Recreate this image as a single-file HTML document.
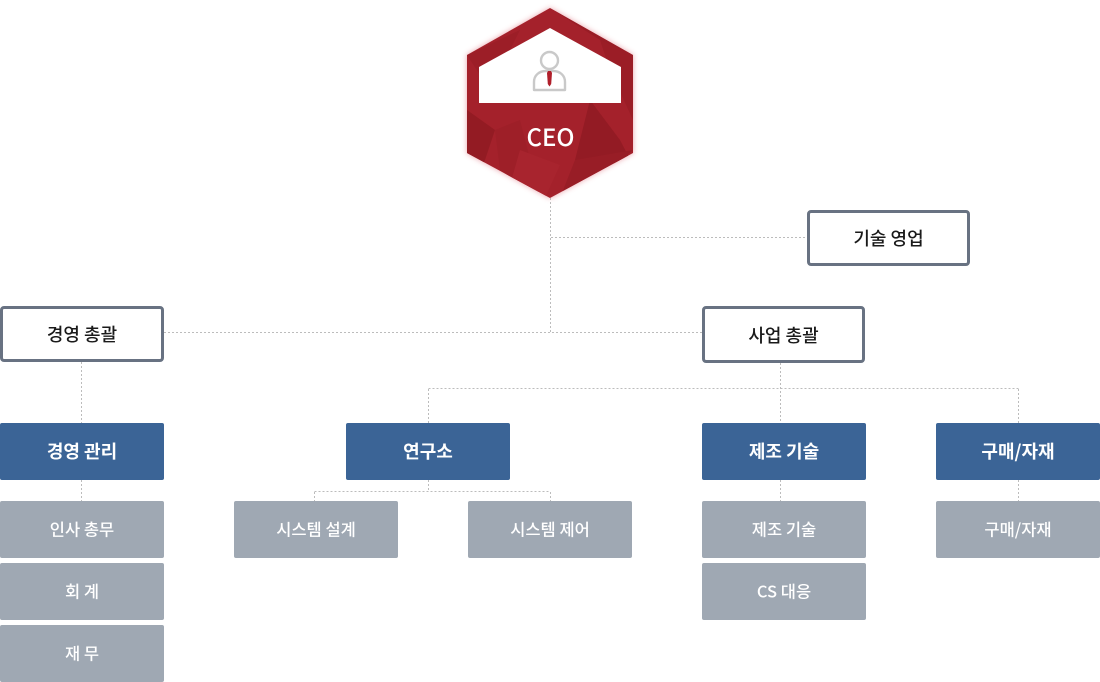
<!DOCTYPE html>
<html>
<head>
<meta charset="utf-8">
<style>
html,body{margin:0;padding:0;background:#fff;}
body{width:1100px;height:682px;overflow:hidden;}
svg{display:block;}
text{font-family:"Noto Sans CJK KR","Liberation Sans",sans-serif;}
</style>
</head>
<body>
<svg width="1100" height="682" viewBox="0 0 1100 682" xmlns="http://www.w3.org/2000/svg">
  <defs>
    <filter id="glow" x="-20%" y="-20%" width="140%" height="140%">
      <feGaussianBlur stdDeviation="3"/>
    </filter>
    <clipPath id="hexclip">
      <polygon points="550,8 633,55 633,153 550,198 467,153 467,55"/>
    </clipPath>
  </defs>

  <!-- connectors -->
  <g stroke="#bcbcbc" stroke-width="1" stroke-dasharray="2,2" fill="none">
    <path d="M550.5 198 V332"/>
    <path d="M551 237.5 H807"/>
    <path d="M164 332.5 H702"/>
    <path d="M81.5 362 V423"/>
    <path d="M81.5 480 V501"/>
    <path d="M780.5 363 V423"/>
    <path d="M428.5 388.5 H1018.5"/>
    <path d="M428.5 389 V423"/>
    <path d="M1018.5 389 V423"/>
    <path d="M428.5 480 V491.5"/>
    <path d="M314.5 491.5 H550.5"/>
    <path d="M314.5 492 V501"/>
    <path d="M550.5 492 V501"/>
    <path d="M780.5 480 V501"/>
    <path d="M1018.5 480 V501"/>
  </g>

  <!-- CEO hexagon -->
  <polygon points="550,8 633,55 633,153 550,198 467,153 467,55" fill="#e58a94" filter="url(#glow)" opacity="0.8"/>
  <g clip-path="url(#hexclip)">
    <rect x="460" y="0" width="180" height="205" fill="#a4212b"/>
    <polygon points="550,8 633,55 600,40" fill="#981d26"/>
    <polygon points="467,55 520,30 490,90" fill="#9c1e27"/>
    <polygon points="600,40 633,55 633,120 610,70" fill="#9b1d26"/>
    <polygon points="467,110 495,130 480,175 467,160" fill="#931b23"/>
    <polygon points="495,130 520,120 540,198 500,170" fill="#9e1f28"/>
    <polygon points="590,100 620,140 633,165 575,160" fill="#931b24"/>
    <polygon points="575,160 633,150 600,180 560,198" fill="#981d26"/>
    <polygon points="520,150 560,165 545,198 510,185" fill="#a8242e"/>
  </g>
  <polygon points="550,28 621,67 621,103 479,103 479,67" fill="#ffffff"/>
  <!-- person icon -->
  <circle cx="549.5" cy="60.5" r="8.5" fill="none" stroke="#c9c9c9" stroke-width="2.4"/>
  <path d="M534 90 L534 82 C534 75 539.5 71 546 71 L553 71 C559.5 71 565 75 565 82 L565 90 Z" fill="none" stroke="#c9c9c9" stroke-width="2.4" stroke-linejoin="round"/>
  <polygon points="548,71 551,71 552,73 551.2,84 549.5,86.5 547.8,84 547,73" fill="#b01e2a"/>
  <text x="550.5" y="146" text-anchor="middle" font-size="24" fill="#ffffff" font-weight="500">CEO</text>

  <!-- outline boxes -->
  <g fill="#ffffff" stroke="#687282" stroke-width="3">
    <rect x="1.5" y="307.5" width="161" height="53" rx="2.5"/>
    <rect x="808.5" y="211.5" width="160" height="53" rx="2.5"/>
    <rect x="703.5" y="307.5" width="160" height="54" rx="2.5"/>
  </g>
  <g font-size="18" fill="#1a1a1a" text-anchor="middle" font-weight="500">
    <text x="82" y="341">경영 총괄</text>
    <text x="888.5" y="245">기술 영업</text>
    <text x="783.5" y="342">사업 총괄</text>
  </g>

  <!-- blue boxes -->
  <g fill="#3b6496">
    <rect x="0" y="423" width="164" height="57" rx="2"/>
    <rect x="346" y="423" width="164" height="57" rx="2"/>
    <rect x="702" y="423" width="164" height="57" rx="2"/>
    <rect x="936" y="423" width="164" height="57" rx="2"/>
  </g>
  <g font-size="18" fill="#ffffff" text-anchor="middle" font-weight="bold">
    <text x="82" y="458">경영 관리</text>
    <text x="428" y="458">연구소</text>
    <text x="784" y="458">제조 기술</text>
    <text x="1018" y="458">구매/자재</text>
  </g>

  <!-- grey boxes -->
  <g fill="#9fa8b3">
    <rect x="0" y="501" width="164" height="57" rx="2"/>
    <rect x="0" y="563" width="164" height="57" rx="2"/>
    <rect x="0" y="625" width="164" height="57" rx="2"/>
    <rect x="234" y="501" width="164" height="57" rx="2"/>
    <rect x="468" y="501" width="164" height="57" rx="2"/>
    <rect x="702" y="501" width="164" height="57" rx="2"/>
    <rect x="702" y="563" width="164" height="57" rx="2"/>
    <rect x="936" y="501" width="164" height="57" rx="2"/>
  </g>
  <g font-size="16.5" fill="#ffffff" text-anchor="middle" font-weight="500">
    <text x="82" y="535.5">인사 총무</text>
    <text x="82" y="597.5">회 계</text>
    <text x="82" y="659.5">재 무</text>
    <text x="316" y="535.5">시스템 설계</text>
    <text x="550" y="535.5">시스템 제어</text>
    <text x="784" y="535.5">제조 기술</text>
    <text x="784" y="597.5">CS 대응</text>
    <text x="1018" y="535.5">구매/자재</text>
  </g>
</svg>
</body>
</html>
